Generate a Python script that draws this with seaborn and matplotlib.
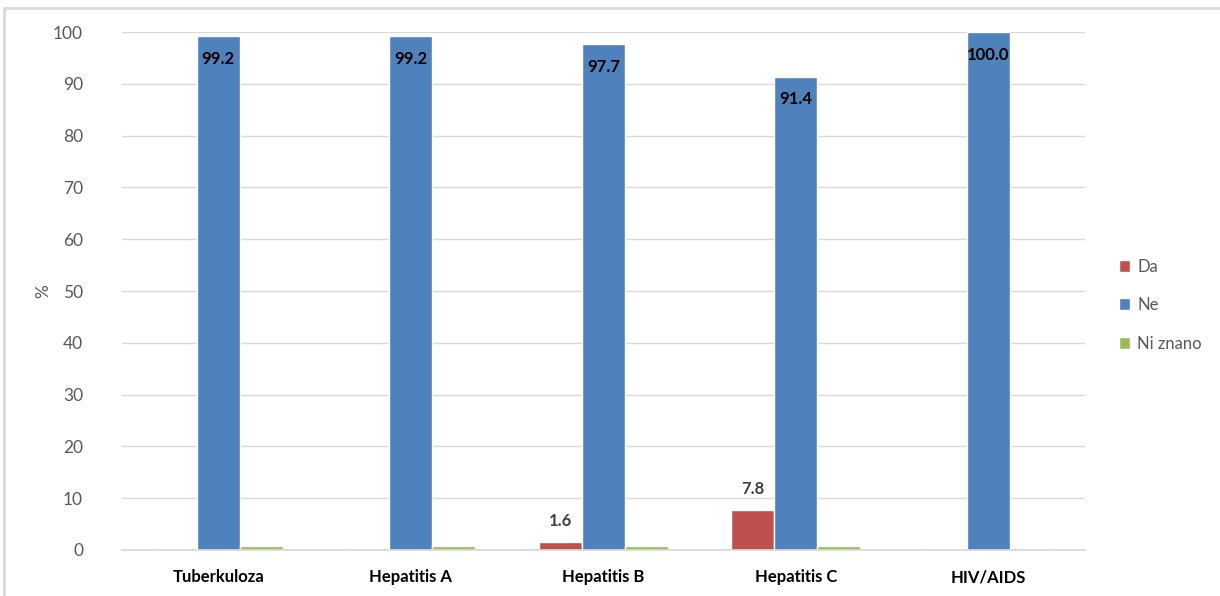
import pandas as pd
import numpy as np
import matplotlib.pyplot as plt
import seaborn as sns
from matplotlib.patches import Rectangle

sns.set_theme(style="white")
plt.rcParams['font.family'] = ['Lato', 'DejaVu Sans']

# podatki
bolezni = ['Tuberkuloza', 'Hepatitis A', 'Hepatitis B', 'Hepatitis C', 'HIV/AIDS']
da = [0, 0, 1.6, 7.8, 0]
ne = [99.2, 99.2, 97.7, 91.4, 100.0]
ni_znano = [0.8, 0.8, 0.8, 0.8, 0]
odgovori = ['Da', 'Ne', 'Ni znano']
barve = ['#C0504D', '#4F81BD', '#9BBB59']

df = pd.DataFrame({'bolezen': bolezni * 3,
                   'odgovor': np.repeat(odgovori, len(bolezni)),
                   'delez': da + ne + ni_znano})

fig = plt.figure(figsize=(12.2, 5.96), dpi=100)
ax = fig.add_axes([0.1, 0.0772, 0.789, 0.869])

sns.barplot(data=df, x='bolezen', y='delez', hue='odgovor', hue_order=odgovori,
            palette=barve, width=0.67, saturation=1, ax=ax, errorbar=None)

ax.set_ylim(0, 100)
ax.set_yticks(range(0, 101, 10))
ax.yaxis.grid(True, color='#D9D9D9', linewidth=1)
ax.set_axisbelow(True)
for s in ['top', 'right', 'left']:
    ax.spines[s].set_visible(False)
ax.spines['bottom'].set_color('#D9D9D9')
ax.tick_params(axis='y', colors='#595959', labelsize=12.5, length=0, pad=28)
ax.tick_params(axis='x', length=0, pad=14)
for t in ax.get_xticklabels():
    t.set_fontweight('bold')
    t.set_fontsize(12)
    t.set_color('black')
ax.set_xlabel('')
ax.set_ylabel('%', color='#595959', fontsize=12.5)
ax.yaxis.set_label_coords(-0.073, 0.5)

# oznake vrednosti
kont = ax.containers
ax.bar_label(kont[0], labels=[f'{v:.1f}' if v > 0 else '' for v in da],
             padding=9, fontsize=12, fontweight='bold', color='#404040')
ax.bar_label(kont[1], labels=[f'{v:.1f}' for v in ne], label_type='edge',
             padding=-22, fontsize=12, fontweight='bold', color='black')

ax.legend(loc='center left', bbox_to_anchor=(1.02, 0.473), frameon=False,
          fontsize=12, handlelength=0.7, handleheight=0.7, labelspacing=1.35,
          labelcolor='#595959', handletextpad=0.4)

fig.patches.append(Rectangle((4 / 1220, -0.1), 1.2, 1 - 8 / 596 + 0.1,
                             transform=fig.transFigure, fill=False,
                             edgecolor='#D9D9D9', linewidth=2))

fig.savefig('out.png', dpi=100)
